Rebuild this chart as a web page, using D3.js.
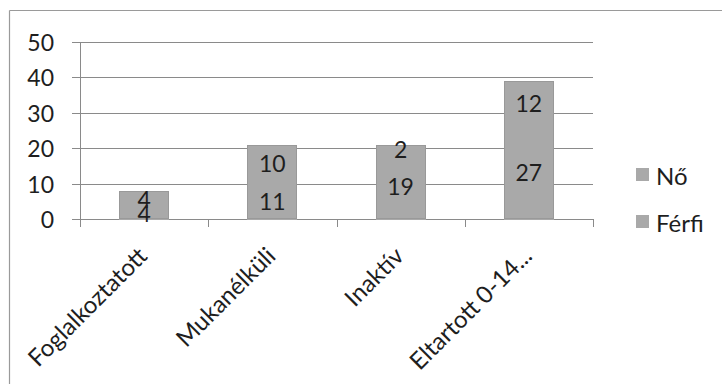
<!DOCTYPE html>
<html>
<head>
<meta charset="utf-8">
<script src="https://cdn.jsdelivr.net/npm/d3@7"></script>
<style>
  html, body { margin: 0; padding: 0; background: #fff; }
  svg { display: block; }
  text { font-family: Lato, "Open Sans", sans-serif; fill: #1e1e1e; }
</style>
</head>
<body>
<div id="chart"></div>
<script>
const categories = ["Foglalkoztatott", "Mukanélküli", "Inaktív", "Eltartott 0-14..."];
const ferfi = [4, 11, 19, 27];
const no = [4, 10, 2, 12];
const seriesNames = ["Nő", "Férfi"];
const yTicks = [0, 10, 20, 30, 40, 50];

const W = 722, H = 384;
const svg = d3.select("#chart").append("svg").attr("width", W).attr("height", H);

// frame (only left and top visible)
svg.append("line").attr("x1", 9.5).attr("x2", 9.5).attr("y1", 10.5).attr("y2", H)
  .attr("stroke", "#9a9a9a").attr("stroke-width", 1.2);
svg.append("line").attr("x1", 9.5).attr("x2", W).attr("y1", 10.5).attr("y2", 10.5)
  .attr("stroke", "#9a9a9a").attr("stroke-width", 1.2);

const x = d3.scaleBand().domain(categories).range([80, 593]).paddingInner(0.61).paddingOuter(0.305);
const y = d3.scaleLinear().domain([0, 50]).range([219, 42]);

// gridlines
svg.append("g").selectAll("line").data(yTicks).join("line")
  .attr("x1", 72).attr("x2", 593)
  .attr("y1", d => Math.round(y(d)) + 0.5).attr("y2", d => Math.round(y(d)) + 0.5)
  .attr("stroke", "#8a8a8a").attr("stroke-width", 1);

// y axis line
svg.append("line").attr("x1", 80.5).attr("x2", 80.5).attr("y1", y(50)).attr("y2", 227)
  .attr("stroke", "#8a8a8a");

// category tick marks
const step = x.step();
const bounds = d3.range(categories.length + 1).map(i => 80 + i * step);
svg.append("g").selectAll("line").data(bounds.slice(1)).join("line")
  .attr("x1", d => Math.round(d) + 0.5).attr("x2", d => Math.round(d) + 0.5)
  .attr("y1", y(0)).attr("y2", 227)
  .attr("stroke", "#8a8a8a");

// y tick labels
svg.append("g").selectAll("text").data(yTicks).join("text")
  .attr("x", 54).attr("y", d => y(d))
  .attr("text-anchor", "end").attr("dominant-baseline", "central")
  .attr("font-size", 23).text(d => d);

// stacked data
const rows = categories.map((c, i) => ({ cat: c, "Férfi": ferfi[i], "Nő": no[i] }));
const stack = d3.stack().keys(["Férfi", "Nő"])(rows);

const barFill = "#a9a9a9";
const gBars = svg.append("g").attr("shape-rendering", "crispEdges");
stack.forEach(layer => {
  gBars.append("g").selectAll("rect").data(layer).join("rect")
    .attr("x", d => x(d.data.cat))
    .attr("width", x.bandwidth())
    .attr("y", d => Math.round(y(d[1])))
    .attr("height", d => Math.round(y(d[0])) - Math.round(y(d[1])) + 1)
    .attr("fill", barFill);
});
// outline of the whole bar
gBars.append("g").selectAll("rect").data(rows).join("rect")
  .attr("x", d => x(d.cat) + 0.5)
  .attr("width", x.bandwidth() - 1)
  .attr("y", d => y(d["Férfi"] + d["Nő"]) + 0.5)
  .attr("height", d => y(0) - y(d["Férfi"] + d["Nő"]) - 1)
  .attr("fill", "none").attr("stroke", "#999").attr("stroke-width", 1);

// data labels
stack.forEach(layer => {
  svg.append("g").selectAll("text").data(layer).join("text")
    .attr("x", d => x(d.data.cat) + x.bandwidth() / 2)
    .attr("y", d => (y(d[0]) + y(d[1])) / 2 + 1)
    .attr("text-anchor", "middle").attr("dominant-baseline", "central")
    .attr("font-size", 23)
    .text(d => d[1] - d[0]);
});

// category labels
svg.append("g").selectAll("text").data(categories).join("text")
  .attr("transform", d => `translate(${x(d) + x.bandwidth() / 2 - 9},${244}) rotate(-45)`)
  .attr("text-anchor", "end").attr("dominant-baseline", "hanging")
  .attr("font-size", 24)
  .text(d => d);

// legend
const legend = svg.append("g");
seriesNames.forEach((s, i) => {
  const yy = 168 + i * 47;
  legend.append("rect").attr("x", 636).attr("y", yy).attr("width", 13).attr("height", 13)
    .attr("fill", barFill);
  legend.append("text").attr("x", 656).attr("y", yy + 7).attr("dominant-baseline", "central")
    .attr("font-size", 24).text(s);
});
</script>
</body>
</html>
